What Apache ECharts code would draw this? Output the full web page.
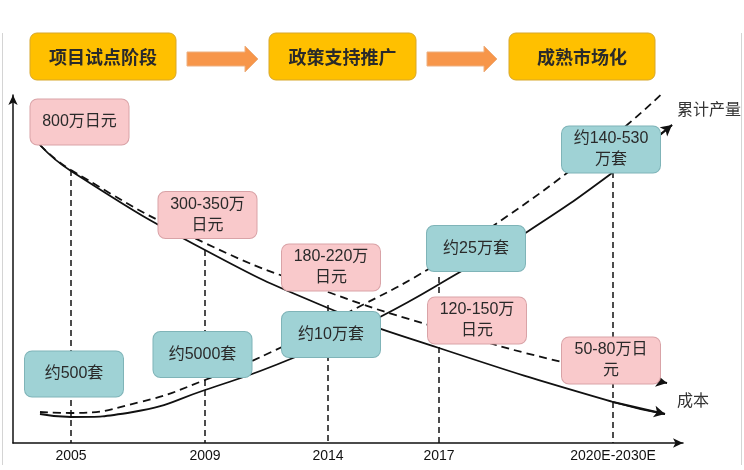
<!DOCTYPE html>
<html><head><meta charset="utf-8">
<script src="https://cdn.jsdelivr.net/npm/echarts@6/dist/echarts.min.js"></script>
<style>html,body{margin:0;padding:0;background:#fff}#c{width:744px;height:470px}</style>
</head><body><div id="c"></div>
<script>
// Stage banner
const stages = ['项目试点阶段', '政策支持推广', '成熟市场化'];
// X axis ticks (position along the schematic time axis) and their labels
const tickLabels = ['2005', '2009', '2014', '2017', '2020E-2030E'];
const tickPos = [58, 192, 315, 426, 600];
// height where each vertical guide starts
const guideTop = [273, 193, 138, 166, 271];
// cost curves (schematic, descending)
const costSolid = [[27,298],[58,272],[192,193],[315,135],[426,95],[600,41],[652,29]];
const costDashed = [[27,298],[58,273],[192,200],[315,151],[426,115],[549,81],[654,60]];
// cumulative output curves (schematic, ascending)
const outputSolid = [[27,29],[58,26],[120,31],[192,53],[280,85],[367,126],[447,171],[514,211],[599,270],[659,318]];
const outputDashed = [[27,31],[58,30],[127,41],[192,63],[269,96],[340,133],[414,173],[480,217],[554,270],[614,318],[655,355]];
// annotation boxes
const costBoxNames = ['800万日元', '300-350万\n日元', '180-220万\n日元', '120-150万\n日元', '50-80万日\n元'];
const costBoxPos = [[66.5,321],[194.5,228],[318,175.5],[464,122.5],[598,82.5]];
const outBoxNames = ['约500套', '约5000套', '约10万套', '约25万套', '约140-530\n万套'];
const outBoxPos = [[61,69],[189.5,88.5],[318,108.5],[463,194.5],[598,293.5]];
const curveLabels = ['累计产量', '成本'];

const FONT = '"Liberation Sans", "Noto Sans CJK SC", sans-serif';
const chart = echarts.init(document.getElementById('c'), null, {renderer: 'canvas'});

function curve(name, data, dashed) {
  const n = data.length;
  const ls = {color: '#111', width: 1.8, type: dashed ? [8, 5] : 'solid'};
  return {
    type: 'line', name, data, showSymbol: false, smooth: 0.5,
    lineStyle: ls, z: 3, silent: true,
    markLine: {
      silent: true, symbol: ['none', 'arrow'], symbolSize: [9, 11],
      label: {show: false}, lineStyle: Object.assign({}, ls),
      data: [[{coord: data[n - 2]}, {coord: data[n - 1]}]]
    }
  };
}
function boxes(names, pos, fill, stroke) {
  return {
    type: 'scatter', symbolSize: 1, itemStyle: {color: 'transparent', opacity: 1}, z: 10, silent: true,
    data: names.map((nm, i) => ({name: nm, value: pos[i],
      label: {padding: nm.indexOf('\n') >= 0 ? [2, 0] : [12, 0]}})),
    label: {
      show: true, position: 'inside', formatter: p => p.name,
      width: 98, align: 'center', verticalAlign: 'middle', lineHeight: 21,
      backgroundColor: fill, borderColor: stroke, borderWidth: 1, borderRadius: 7,
      fontSize: 16, color: '#2a2a2a', fontFamily: FONT, opacity: 1
    }
  };
}

const banners = [[30, 146], [269, 147], [509, 146]];
const graphic = [];
banners.forEach((b, i) => {
  graphic.push({type: 'rect', shape: {x: b[0], y: 33, width: b[1], height: 47, r: 7},
    style: {fill: '#FFC000', stroke: '#D7A72A', lineWidth: 1}, z: 1});
  graphic.push({type: 'text', x: b[0] + b[1] / 2, y: 57,
    style: {text: stages[i], fill: '#2a2a2a', font: 'bold 18px "Noto Sans CJK SC", sans-serif',
      align: 'center', verticalAlign: 'middle'}, z: 2});
});
[[187, 258], [427, 497]].forEach(a => {
  const hx = a[1] - 13;
  graphic.push({type: 'polygon', shape: {points: [[a[0], 52], [hx, 52], [hx, 46], [a[1], 59], [hx, 72], [hx, 66], [a[0], 66]]},
    style: {fill: '#F7964A', stroke: '#EDB081', lineWidth: 1}, z: 1});
});
graphic.push({type: 'text', x: 677, y: 109, style: {text: curveLabels[0], fill: '#333', font: '16px "Noto Sans CJK SC", sans-serif', verticalAlign: 'middle'}});
graphic.push({type: 'text', x: 677, y: 400, style: {text: curveLabels[1], fill: '#333', font: '16px "Noto Sans CJK SC", sans-serif', verticalAlign: 'middle'}});
graphic.push({type: 'line', shape: {x1: 2.5, y1: 33, x2: 2.5, y2: 465}, style: {stroke: '#d4d4d4', lineWidth: 1}});
graphic.push({type: 'line', shape: {x1: 741.5, y1: 33, x2: 741.5, y2: 465}, style: {stroke: '#d4d4d4', lineWidth: 1}});

chart.setOption({
  animation: false,
  backgroundColor: '#fff',
  grid: {left: 13, top: 95, width: 670, height: 348},
  xAxis: {
    type: 'value', min: 0, max: 670,
    axisLine: {show: true, symbol: ['none', 'arrow'], symbolSize: [7, 10], lineStyle: {color: '#111', width: 1.5}},
    axisTick: {show: false}, splitLine: {show: false},
    axisLabel: {customValues: tickPos, formatter: v => tickLabels[tickPos.indexOf(v)] || '',
      fontSize: 14, color: '#111', margin: 6, fontFamily: FONT, hideOverlap: false}
  },
  yAxis: {
    type: 'value', min: 0, max: 348,
    axisLine: {show: true, symbol: ['none', 'arrow'], symbolSize: [7, 10], lineStyle: {color: '#111', width: 1.5}},
    axisTick: {show: false}, splitLine: {show: false}, axisLabel: {show: false}
  },
  graphic,
  series: [
    {type: 'lines', coordinateSystem: 'cartesian2d', silent: true, z: 2,
      lineStyle: {color: '#111', width: 1.5, type: [6, 4], opacity: 1},
      data: tickPos.map((x, i) => ({coords: [[x, guideTop[i]], [x, 0]]}))},
    curve('costSolid', costSolid, false),
    curve('costDashed', costDashed, true),
    curve('outputSolid', outputSolid, false),
    curve('outputDashed', outputDashed, true),
    boxes(costBoxNames, costBoxPos, '#F9C9CB', '#D9A3A7'),
    boxes(outBoxNames, outBoxPos, '#9FD2D5', '#7FB4B8')
  ]
});
</script></body></html>
